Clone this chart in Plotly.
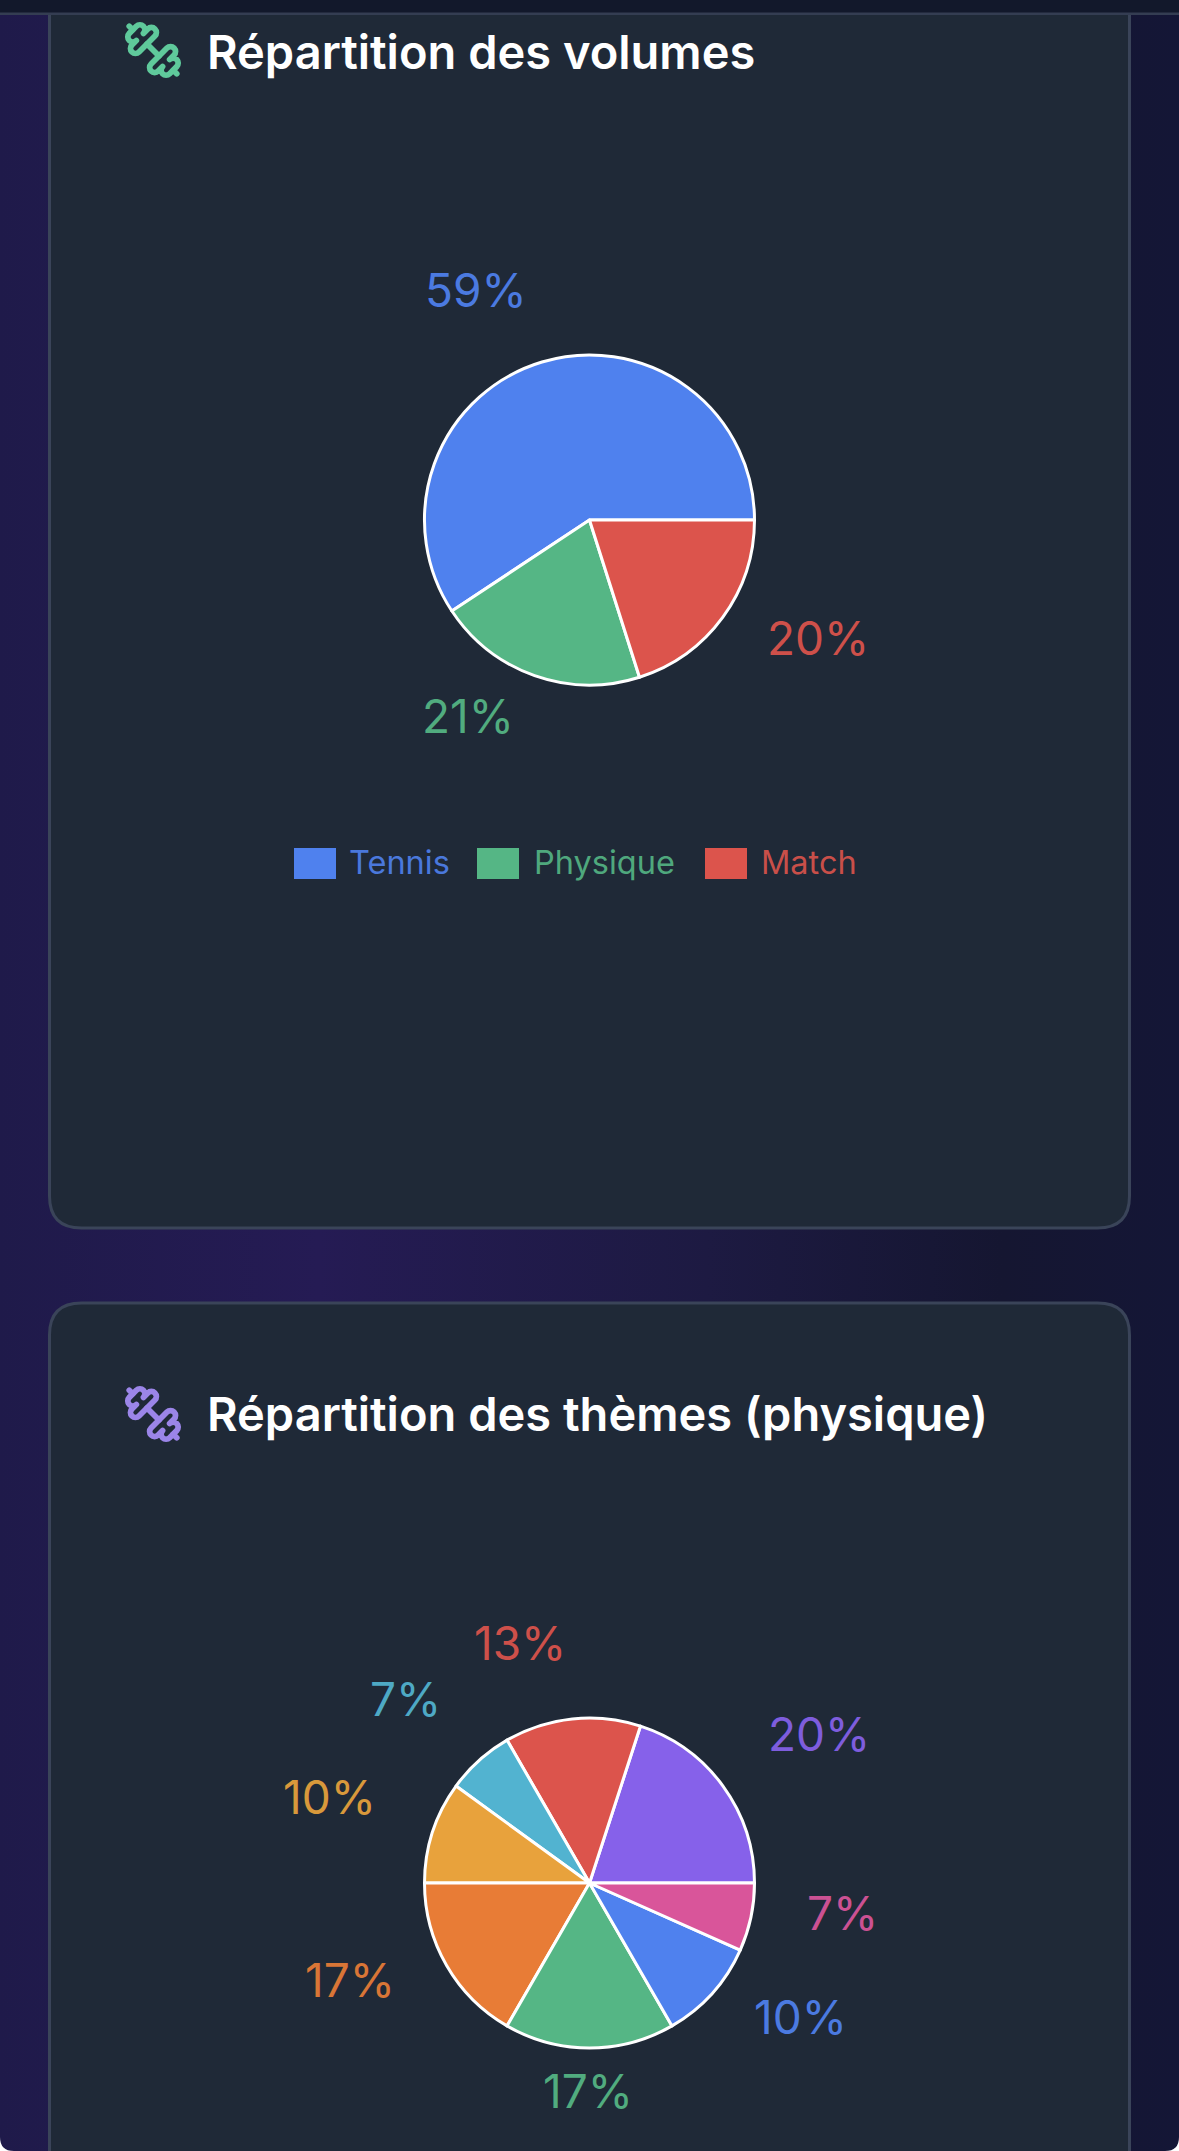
import base64
import plotly.graph_objects as go

W, H = 1179, 2151

# ---- data ----
vol_labels = ["Tennis", "Physique", "Match"]
vol_values = [59.3, 20.6, 20.1]
vol_colors = ["#4F81EE", "#55B685", "#DC544C"]

theme_labels = ["Renforcement", "Cardio", "Vitesse", "Explosivité", "Endurance", "Mobilité", "Gainage", "Récupération"]
theme_values = [6, 4, 2, 3, 5, 5, 3, 2]
theme_colors = ["#8661EA", "#DC544C", "#52B3D0", "#E8A23C", "#E87C36", "#55B685", "#4F81EE", "#D9559A"]

# ---- layout constants (pixels) ----
PIE_R = 165
PIE_X = 589.5
PIE1_Y, PIE2_Y = 520, 1883
vol_label_pos = [(476, 290), (468, 716), (818, 638)]
theme_label_pos = [(819, 1734), (520, 1643), (405, 1699), (329.5, 1797),
                   (350, 1979.5), (588, 2091), (800, 2017), (842, 1913)]
legend_swatch_x = [294, 477, 705]
legend_text_x = [347, 532, 759]
LEG_Y0, LEG_Y1 = 848, 879
CARD_L, CARD_R, CARD_RAD = 49.5, 1129.5, 32
FONT = "Inter, 'Noto Sans', sans-serif"
CARD_FILL, CARD_LINE = "#1F2937", "#3A4459"
CORNER = 14


def px(x):
    return x / W


def py(y):
    return 1 - y / H


def dom(y):
    return dict(x=[px(PIE_X - PIE_R), px(PIE_X + PIE_R)], y=[py(y + PIE_R), py(y - PIE_R)])


def pie(labels, values, colors, y):
    # Plotly ends the first counterclockwise slice at `rotation`; the first slice here starts at 3 o'clock.
    rotation = 90 - 360 * values[0] / sum(values)
    return go.Pie(labels=labels, values=values, sort=False, direction="counterclockwise",
                  rotation=rotation, textinfo="none", showlegend=False, domain=dom(y),
                  marker=dict(colors=colors, line=dict(color="#FFFFFF", width=3)))


def pct_annotations(values, colors, pos):
    total = sum(values)
    return [dict(x=px(x), y=py(y), xref="paper", yref="paper", showarrow=False,
                 xanchor="center", yanchor="middle", text=f"{round(100 * v / total)}%", opacity=0.93,
                 font=dict(family=FONT, size=46, color=c, weight=400))
            for v, c, (x, y) in zip(values, colors, pos)]


def card_path(top, bottom):
    l, r, k = CARD_L, CARD_R, CARD_RAD
    return (f"M {px(l + k)} {py(top)} L {px(r - k)} {py(top)} Q {px(r)} {py(top)} {px(r)} {py(top + k)} "
            f"L {px(r)} {py(bottom - k)} Q {px(r)} {py(bottom)} {px(r - k)} {py(bottom)} "
            f"L {px(l + k)} {py(bottom)} Q {px(l)} {py(bottom)} {px(l)} {py(bottom - k)} "
            f"L {px(l)} {py(top + k)} Q {px(l)} {py(top)} {px(l + k)} {py(top)} Z")


def svg_uri(svg):
    return "data:image/svg+xml;base64," + base64.b64encode(svg.encode()).decode()


def dumbbell(color):
    return svg_uri(
        f'<svg xmlns="http://www.w3.org/2000/svg" width="24" height="24" viewBox="0 0 24 24" fill="none" '
        f'stroke="{color}" stroke-width="2.3" stroke-linecap="round" stroke-linejoin="round">'
        '<path d="M14.4 14.4 9.6 9.6"/>'
        '<path d="M18.657 21.485a2 2 0 1 1-2.829-2.828l-1.767 1.768a2 2 0 1 1-2.829-2.829l6.364-6.364a2 2 0 1 1 2.829 2.829l-1.768 1.767a2 2 0 1 1 2.828 2.829z"/>'
        '<path d="m21.5 21.5-1.4-1.4"/><path d="M3.9 3.9 2.5 2.5"/>'
        '<path d="M6.404 12.768a2 2 0 1 1-2.829-2.829l1.768-1.767a2 2 0 1 1-2.828-2.829l2.828-2.828a2 2 0 1 1 2.829 2.828l1.767-1.768a2 2 0 1 1 2.829 2.829z"/>'
        '</svg>')


bg_svg = svg_uri(
    f'<svg xmlns="http://www.w3.org/2000/svg" width="{W}" height="{H}">'
    '<defs><linearGradient id="g" gradientUnits="userSpaceOnUse" x1="0" y1="0" x2="1179" y2="0">'
    '<stop offset="0" stop-color="#1F1A4A"/><stop offset="0.27" stop-color="#251B54"/>'
    '<stop offset="0.6" stop-color="#1D1A42"/><stop offset="0.85" stop-color="#151631"/>'
    '<stop offset="1" stop-color="#141636"/></linearGradient></defs>'
    f'<rect width="{W}" height="{H}" fill="url(#g)"/></svg>')


def image(src, x, y, size, layer="below"):
    return dict(source=src, xref="paper", yref="paper", x=px(x), y=py(y), sizex=size / W, sizey=size / H,
                xanchor="left", yanchor="top", sizing="stretch", layer=layer)


fig = go.Figure()
fig.add_trace(pie(vol_labels, vol_values, vol_colors, PIE1_Y))
fig.add_trace(pie(theme_labels, theme_values, theme_colors, PIE2_Y))

shapes = [
    dict(type="path", xref="paper", yref="paper", path=card_path(-60, 1228),
         fillcolor=CARD_FILL, line=dict(color=CARD_LINE, width=3), layer="below"),
    dict(type="path", xref="paper", yref="paper", path=card_path(1303, H + 60),
         fillcolor=CARD_FILL, line=dict(color=CARD_LINE, width=3), layer="below"),
    dict(type="rect", xref="paper", yref="paper", x0=0, x1=1, y0=py(14), y1=1,
         fillcolor="#12182B", line=dict(width=0), layer="below"),
    dict(type="rect", xref="paper", yref="paper", x0=0, x1=1, y0=py(15), y1=py(12.5),
         fillcolor="#343D52", line=dict(width=0), layer="below"),
    # rounded screen corners at the bottom of the capture
    dict(type="path", xref="paper", yref="paper",
         path=f"M 0 {py(H - CORNER)} Q 0 0 {px(CORNER)} 0 L 0 0 Z",
         fillcolor="#FFFFFF", line=dict(width=0), layer="below"),
    dict(type="path", xref="paper", yref="paper",
         path=f"M 1 {py(H - CORNER)} Q 1 0 {px(W - CORNER)} 0 L 1 0 Z",
         fillcolor="#FFFFFF", line=dict(width=0), layer="below"),
]
for sx, c in zip(legend_swatch_x, vol_colors):
    shapes.append(dict(type="rect", xref="paper", yref="paper", x0=px(sx), x1=px(sx + 42),
                       y0=py(LEG_Y1), y1=py(LEG_Y0), fillcolor=c, line=dict(width=0), layer="above"))

annotations = []
annotations += pct_annotations(vol_values, vol_colors, vol_label_pos)
annotations += pct_annotations(theme_values, theme_colors, theme_label_pos)
for name, tx, c in zip(vol_labels, legend_text_x, vol_colors):
    annotations.append(dict(x=px(tx), y=py(862), xref="paper", yref="paper", showarrow=False,
                            xanchor="left", yanchor="middle", text=name, opacity=0.9,
                            font=dict(family=FONT, size=32.5, color=c, weight=400)))
for title, y in [("Répartition des volumes", 51), ("Répartition des thèmes (physique)", 1413)]:
    annotations.append(dict(x=px(205), y=py(y), xref="paper", yref="paper", showarrow=False,
                            xanchor="left", yanchor="middle", text=title,
                            font=dict(family=FONT, size=47, color="#FFFFFF", weight=600)))

fig.update_layout(
    width=W, height=H, margin=dict(l=0, r=0, t=0, b=0), autosize=False,
    paper_bgcolor="#1E1847", plot_bgcolor="rgba(0,0,0,0)", showlegend=False,
    shapes=shapes, annotations=annotations,
    images=[image(bg_svg, 0, 0, 1),
            image(dumbbell("#5FC99B"), 123, 20, 60, "above"),
            image(dumbbell("#9B85E8"), 123, 1384, 60, "above")],
)
fig.layout.images[0].sizex = 1
fig.layout.images[0].sizey = 1
fig.write_html("out.html", post_script="document.body.style.margin='0';document.body.style.background='#1E1847';document.documentElement.style.overflow='hidden';",
               config=dict(displayModeBar=False, responsive=False))
